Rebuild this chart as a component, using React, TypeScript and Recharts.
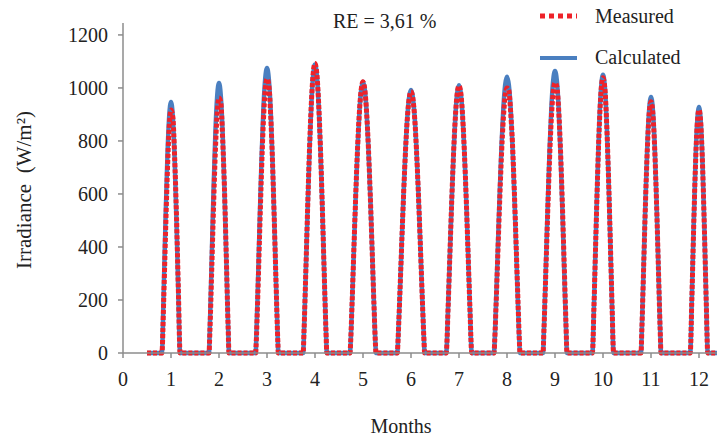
import React from 'react';
import { LineChart, Line, XAxis, YAxis, Legend, Label } from 'recharts';

const HOURS = [5, 6, 7, 8, 9, 10, 11, 12, 13, 14, 15, 16, 17, 18, 19];
const MONTHS = [1, 2, 3, 4, 5, 6, 7, 8, 9, 10, 11, 12];
const MONTH_TICKS = [0, 1, 2, 3, 4, 5, 6, 7, 8, 9, 10, 11, 12];
const IRR_TICKS = [0, 200, 400, 600, 800, 1000, 1200];

// Sunrise / sunset (solar hours) for each monthly representative day
const SUNRISE = [7.0, 6.5, 5.8, 5.5, 4.9, 4.5, 5.0, 4.9, 5.4, 6.2, 6.5, 7.2];
const SUNSET = [17.0, 17.5, 18.2, 18.5, 19.1, 19.5, 19.0, 19.1, 18.6, 17.8, 17.5, 16.8];

// Calculated irradiance, hourly from 5h to 19h (W/m²)
const CALCULATED = [
  [0, 0, 0, 231, 501, 734, 892, 947, 892, 734, 501, 231, 0, 0, 0],
  [0, 0, 98, 355, 613, 828, 969, 1019, 969, 828, 613, 355, 98, 0, 0],
  [0, 30, 253, 501, 731, 916, 1034, 1075, 1034, 916, 731, 501, 253, 30, 0],
  [0, 86, 313, 552, 768, 940, 1050, 1088, 1050, 940, 768, 552, 313, 86, 0],
  [10, 185, 391, 592, 769, 906, 993, 1023, 993, 906, 769, 592, 391, 185, 10],
  [66, 242, 432, 612, 769, 891, 966, 992, 966, 891, 769, 612, 432, 242, 66],
  [0, 167, 371, 573, 751, 891, 980, 1010, 980, 891, 751, 573, 371, 167, 0],
  [10, 189, 398, 603, 784, 923, 1012, 1042, 1012, 923, 784, 603, 398, 189, 10],
  [0, 102, 325, 553, 761, 924, 1028, 1064, 1028, 924, 761, 553, 325, 102, 0],
  [0, 0, 166, 422, 670, 873, 1005, 1050, 1005, 873, 670, 422, 166, 0, 0],
  [0, 0, 93, 336, 582, 785, 919, 966, 919, 785, 582, 336, 93, 0, 0],
  [0, 0, 0, 184, 458, 702, 870, 928, 870, 702, 458, 184, 0, 0, 0],
];

// Measured irradiance, hourly from 5h to 19h (W/m²)
const MEASURED = [
  [0, 0, 0, 200, 450, 680, 850, 917, 890, 740, 520, 250, 0, 0, 0],
  [0, 0, 80, 310, 550, 760, 905, 962, 945, 810, 620, 365, 100, 0, 0],
  [0, 25, 225, 460, 685, 870, 990, 1034, 1010, 900, 725, 500, 255, 32, 0],
  [0, 86, 314, 554, 771, 943, 1054, 1092, 1054, 943, 771, 554, 314, 86, 0],
  [10, 185, 391, 592, 769, 906, 993, 1023, 993, 906, 769, 592, 391, 185, 10],
  [66, 241, 429, 608, 764, 885, 960, 986, 962, 888, 766, 610, 430, 242, 66],
  [0, 166, 370, 572, 750, 889, 978, 1008, 980, 892, 752, 575, 372, 168, 0],
  [10, 178, 378, 575, 750, 884, 970, 1000, 990, 910, 790, 615, 410, 200, 12],
  [0, 98, 311, 530, 729, 885, 984, 1019, 1005, 920, 770, 570, 345, 115, 0],
  [0, 0, 164, 417, 662, 863, 993, 1038, 1000, 868, 668, 425, 170, 0, 0],
  [0, 0, 91, 330, 571, 771, 902, 948, 905, 775, 575, 335, 93, 0, 0],
  [0, 0, 0, 182, 453, 694, 859, 917, 862, 698, 456, 184, 0, 0, 0],
];

const SERIES_START = 0.5;
const SERIES_END = 12.375;
const MONTHS_PER_HOUR = 0.038; // time conversion: one hour expressed in month units on the axis
const NOON = 12;

type Row = { t: number; calc: number; meas: number };
const data: Row[] = [];
data.push({ t: SERIES_START, calc: 0, meas: 0 });
MONTHS.forEach((m, i) => {
  const rows: { h: number; calc: number; meas: number }[] = HOURS.map((h, j) => ({ h, calc: CALCULATED[i][j], meas: MEASURED[i][j] }));
  [SUNRISE[i], SUNSET[i]].forEach((h) => {
    if (!HOURS.includes(h)) rows.push({ h, calc: 0, meas: 0 });
  });
  rows.sort((a, b) => a.h - b.h);
  rows.forEach((r) => data.push({ t: m + (r.h - NOON) * MONTHS_PER_HOUR, calc: r.calc, meas: r.meas }));
});
data.push({ t: SERIES_END, calc: 0, meas: 0 });

const FONT = '"Liberation Serif", "Times New Roman", "DejaVu Serif", serif';
const AXIS = '#8c8c8c';
const TXT = '#222';
const BLUE = '#4a7fc0';
const RED = '#ee2229';

const LegendContent = () => (
  <svg width={175} height={75} style={{ display: 'block' }}>
    <line x1={5} x2={42} y1={16} y2={16} stroke={RED} strokeWidth={5} strokeDasharray="5 4" />
    <text x={60} y={16} dominantBaseline="central" fontSize={20} fill={TXT} style={{ fontFamily: FONT }}>Measured</text>
    <line x1={5} x2={42} y1={58} y2={58} stroke={BLUE} strokeWidth={4} />
    <text x={60} y={57} dominantBaseline="central" fontSize={20} fill={TXT} style={{ fontFamily: FONT }}>Calculated</text>
  </svg>
);

const YTitle = () => (
  <text transform="translate(24,190) rotate(-90)" textAnchor="middle" dominantBaseline="central" fontSize={21} fill={TXT} style={{ fontFamily: FONT }}>
    {'Irradiance\u00A0\u00A0(W/m²)'}
  </text>
);

export default function App() {
  return (
    <div style={{ position: 'absolute', left: 0, top: 0, width: 717, height: 436, background: '#fff', fontFamily: FONT }}>
      <LineChart width={717} height={436} data={data} margin={{ top: 23, right: 0, bottom: 0, left: 0 }} style={{ fontFamily: FONT }}>
        <XAxis
          type="number"
          dataKey="t"
          domain={[0, 12.375]}
          ticks={MONTH_TICKS}
          height={83}
          stroke={AXIS}
          strokeWidth={1.5}
          tickSize={5}
          tickMargin={14}
          tick={{ fontSize: 20, fill: TXT, style: { fontFamily: FONT } }}
        >
          <Label value="Months" position="insideBottom" offset={3} dx={-19} style={{ fontFamily: FONT, fontSize: 20, fill: TXT }} />
        </XAxis>
        <YAxis
          type="number"
          domain={[0, 1245]}
          ticks={IRR_TICKS}
          width={123}
          stroke={AXIS}
          strokeWidth={1.5}
          tickSize={5}
          tickMargin={10}
          tick={{ fontSize: 20, fill: TXT, style: { fontFamily: FONT } }}
        >
          <Label content={YTitle} />
        </YAxis>
        <Legend layout="vertical" verticalAlign="middle" align="center" wrapperStyle={{ top: 0, left: 535, width: 175 }} content={LegendContent} />
        <Line type="monotone" dataKey="calc" stroke={BLUE} strokeWidth={4.5} dot={false} isAnimationActive={false} legendType="line" name="Calculated" />
        <Line type="monotone" dataKey="meas" stroke={RED} strokeWidth={5} strokeDasharray="4 2" dot={false} isAnimationActive={false} legendType="line" name="Measured" />
      </LineChart>
      <div style={{ position: 'absolute', left: 333, top: 9, fontFamily: FONT, fontSize: 20, color: TXT, whiteSpace: 'nowrap', lineHeight: '24px' }}>
        RE = 3,61 %
      </div>
    </div>
  );
}
